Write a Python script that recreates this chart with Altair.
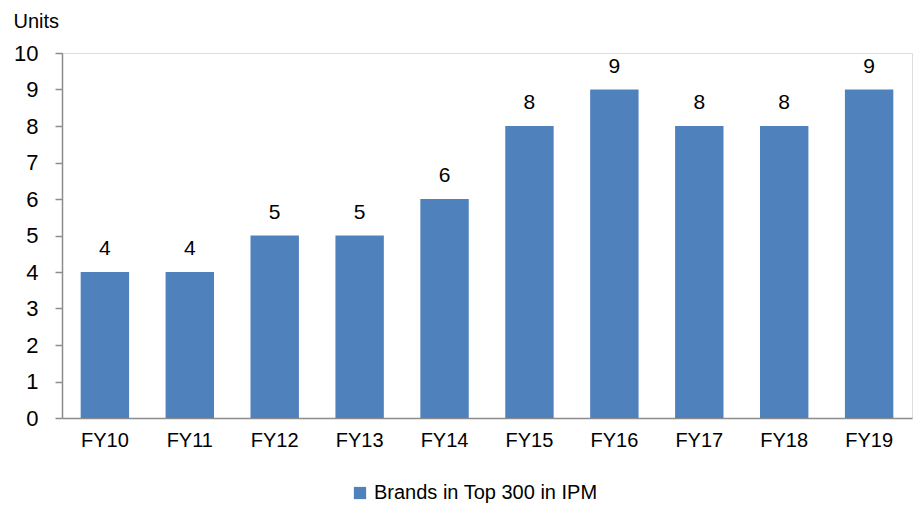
import altair as alt
import pandas as pd

years = ["FY10", "FY11", "FY12", "FY13", "FY14", "FY15", "FY16", "FY17", "FY18", "FY19"]
values = [4, 4, 5, 5, 6, 8, 9, 8, 8, 9]
series = "Brands in Top 300 in IPM"

df = pd.DataFrame({"year": years, "value": values, "series": [series] * len(years)})

FONT = "Liberation Sans"

y_enc = alt.Y("value:Q", title="Units",
              scale=alt.Scale(domain=[0, 10], nice=False),
              axis=alt.Axis(tickCount=10, tickMinStep=1, grid=False, tickSize=7, tickColor="#8c8c8c",
                            domainColor="#8c8c8c", domainWidth=1.5, tickWidth=1.5,
                            labelOverlap=False,
                            labelFontSize=22, labelFont=FONT, labelColor="#000000", labelPadding=17,
                            titleAngle=0, titleAlign="left", titleBaseline="alphabetic",
                            titleX=-49, titleY=-26, titleFont=FONT, titleFontSize=20,
                            titleFontWeight="normal", titleColor="#000000"))

base = alt.Chart(df).encode(
    x=alt.X("year:N", sort=years, title=None,
            scale=alt.Scale(paddingInner=0.43, paddingOuter=0.22),
            axis=alt.Axis(labelAngle=0, ticks=False, labelPadding=12, labelFontSize=20,
                          labelFont=FONT, labelColor="#000000", domainColor="#8c8c8c",
                          domainWidth=1.5)),
    y=y_enc,
)

bars = base.mark_bar(color="#4F81BD").encode(
    fill=alt.Fill("series:N", scale=alt.Scale(range=["#4F81BD"]),
                  legend=alt.Legend(title=None, orient="none", legendX=288, legendY=430,
                                    symbolType="square", symbolSize=150, labelFontSize=20,
                                    labelLimit=400,
                                    labelFont=FONT, labelColor="#000000", symbolStrokeWidth=0)),
)

labels = base.mark_text(baseline="alphabetic", dy=-17, fontSize=21, font=FONT, color="#000000").encode(
    text=alt.Text("value:Q"),
)

chart = alt.layer(bars, labels).properties(
    width=850, height=365,
    padding={"left": 62, "top": 53, "right": 4, "bottom": 92},
    autosize=alt.AutoSizeParams(type="none"),
).configure_view(stroke=None).configure(background="#ffffff")

chart.save("out.html", embed_options={"renderer": "svg", "actions": False})
